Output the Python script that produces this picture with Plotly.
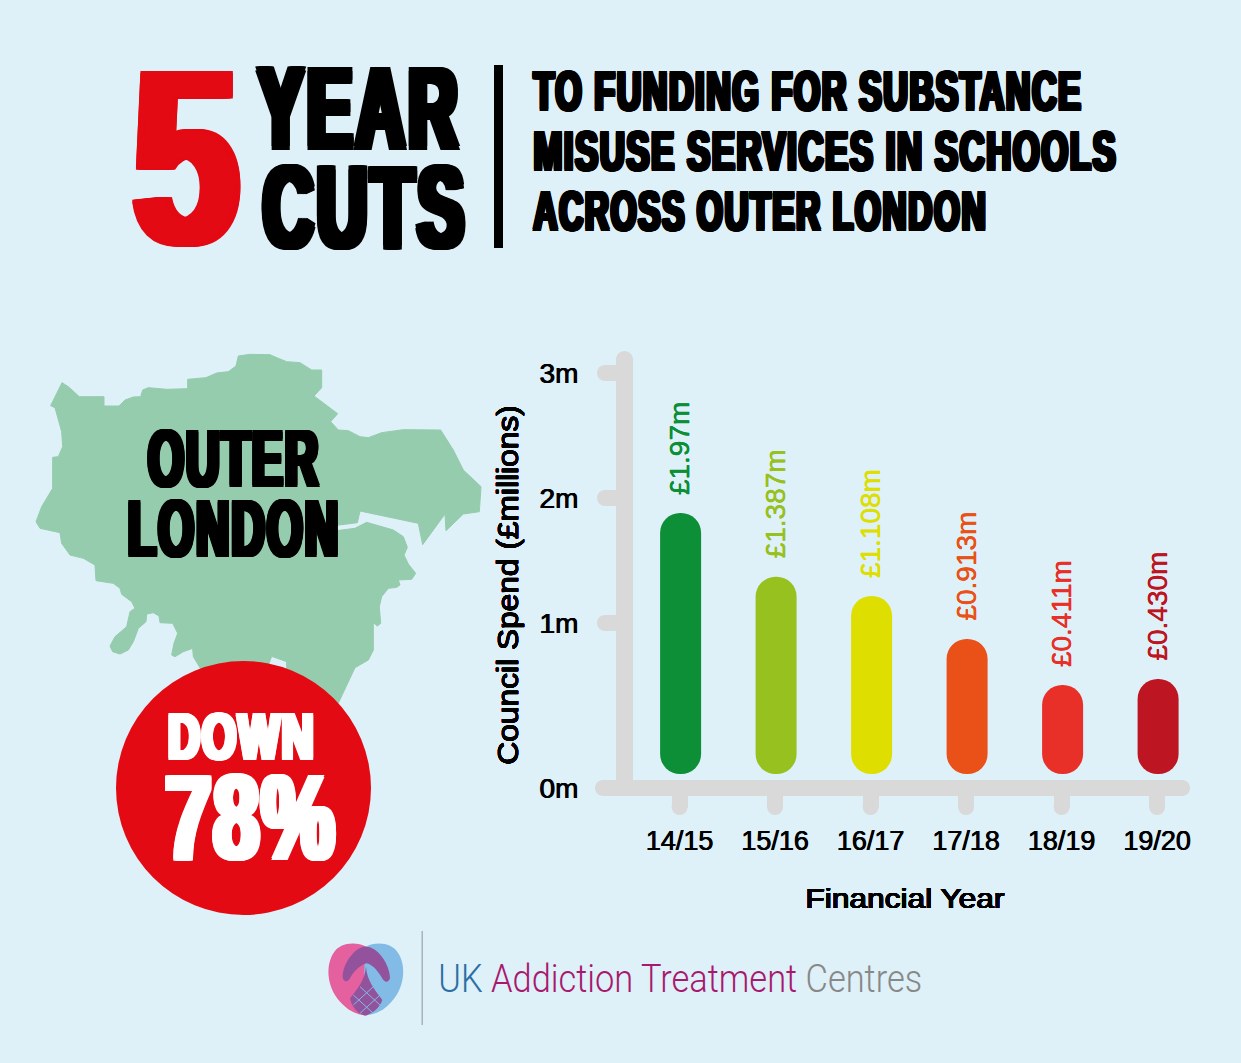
import json
import plotly.graph_objects as go

# financial years and what the picture shows
years = ['14/15', '15/16', '16/17', '17/18', '18/19', '19/20']
bar_tops = [1.88, 1.37, 1.216, 0.872, 0.504, 0.552]  # bars are not to scale in the original
bar_base = -0.208
value_labels = ['£1.97m', '£1.387m', '£1.108m', '£0.913m', '£0.411m', '£0.430m']
bar_colors = ['#0C8F37', '#97C11F', '#DEDE00', '#EA5119', '#E83029', '#BD1622']
y_ticks = [-0.32, 1, 2, 3]
y_ticklabels = ['0m', '1m', '2m', '3m']

BG = '#DEF0F8'
RED = '#E30A14'
GREY = '#D9D9D9'
MAP = '#95CCAD'
BODY_FONT = 'Liberation Sans'
W, H = 1241, 1063


# canvas pixels -> axis units, the one axes covers the whole canvas
def px(p):
    return (p - 679.6) / 95.5


def py(p):
    return 1 + (623 - p) / 125


# London outline, measured on a crop at 3x with origin (20,340)
map_pts = [(92, 197), (126, 128), (145, 140), (178, 170), (252, 170), (252, 198), (297, 198), (315, 180), (340, 171),
           (362, 170), (368, 150), (385, 143), (440, 148), (503, 146), (503, 118), (558, 113), (590, 99), (625, 95),
           (648, 78), (655, 48), (690, 43), (750, 44), (775, 55), (800, 65), (840, 68), (875, 90), (905, 90),
           (905, 143), (882, 168), (953, 221), (932, 245), (955, 270), (985, 272), (1020, 290), (1045, 293),
           (1085, 278), (1150, 269), (1262, 270), (1300, 330), (1330, 390), (1383, 440), (1378, 515), (1330, 522),
           (1278, 572), (1275, 522), (1208, 614), (1195, 550), (1020, 513), (1012, 548), (950, 556), (950, 572),
           (1005, 565), (1040, 547), (1120, 570), (1150, 590), (1162, 622), (1152, 645), (1165, 672), (1187, 700),
           (1175, 718), (1135, 720), (1140, 735), (1130, 742), (1105, 745), (1085, 770), (1078, 800), (1082, 850),
           (1072, 858), (1060, 848), (1060, 930), (1045, 960), (1005, 983), (950, 1100), (800, 1050), (800, 965),
           (755, 949), (745, 975), (550, 1000), (520, 950), (518, 925), (490, 935), (465, 950), (455, 945), (462, 910),
           (473, 880), (458, 850), (420, 848), (417, 828), (400, 818), (380, 822), (378, 845), (355, 865), (340, 905),
           (325, 930), (300, 942), (278, 935), (270, 918), (285, 890), (320, 860), (330, 815), (345, 805), (335, 785),
           (305, 763), (300, 745), (280, 730), (228, 722), (225, 675), (190, 655), (150, 645), (125, 610), (120, 578),
           (60, 565), (48, 545), (65, 500), (98, 445), (98, 352), (115, 350), (128, 320), (125, 275), (110, 215),
           (105, 203), (92, 197)]
map_x = [px(20 + a / 3) for a, b in map_pts]
map_y = [py(340 + b / 3) for a, b in map_pts]

fig = go.Figure()
fig.add_trace(go.Scatter(x=map_x, y=map_y, mode='lines', fill='toself', fillcolor=MAP, line=dict(color=MAP, width=1),
                         hoverinfo='skip', showlegend=False))
fig.add_trace(go.Bar(x=list(range(len(years))), y=[t - bar_base for t in bar_tops], base=bar_base,
                     width=41 / 95.5, offset=-20.5 / 95.5 + 1 / 95.5, marker=dict(color=bar_colors, line=dict(width=0), cornerradius=20),
                     hoverinfo='skip', showlegend=False))


def pill(x0, y0, x1, y1, color):
    # rounded bar between two pixel corners
    r = min(x1 - x0, y1 - y0) / 2
    k = r * 0.45
    pts = [
        ('M', x0 + r, y0), ('L', x1 - r, y0), ('C', x1 - k, y0, x1, y0 + k, x1, y0 + r),
        ('L', x1, y1 - r), ('C', x1, y1 - k, x1 - k, y1, x1 - r, y1), ('L', x0 + r, y1),
        ('C', x0 + k, y1, x0, y1 - k, x0, y1 - r), ('L', x0, y0 + r), ('C', x0, y0 + k, x0 + k, y0, x0 + r, y0),
    ]
    s = ''
    for p in pts:
        nums = p[1:]
        s += p[0] + ' '.join(f'{px(nums[i]):.5f},{py(nums[i + 1]):.5f}' for i in range(0, len(nums), 2)) + ' '
    return dict(type='path', path=s + 'Z', fillcolor=color, line=dict(width=0), layer='below')


def crop_path(cmds, color, opacity=1.0):
    # logo pieces, crop at 3x with origin (320,930)
    s = ''
    for c in cmds:
        nums = c[1:]
        s += c[0] + ' '.join(f'{px(320 + nums[i] / 3):.5f},{py(930 + nums[i + 1] / 3):.5f}' for i in range(0, len(nums), 2)) + ' '
    return dict(type='path', path=s + 'Z', fillcolor=color, opacity=opacity, line=dict(width=0), layer='above')


def box(x0, y0, x1, y1, color, kind='rect', layer='above'):
    return dict(type=kind, x0=px(x0), x1=px(x1), y0=py(y0), y1=py(y1), fillcolor=color, line=dict(width=0), layer=layer)


shapes = [
    pill(616, 351, 633, 796, GREY),
    pill(595, 780, 1190, 796, GREY),
    box(494, 65, 503, 248, '#000000'),
    box(116, 661, 371, 915, RED, 'circle'),
    box(421.5, 931, 423, 1025, '#A9B3B8'),
]
# round the ends of the tick stubs
for v in y_ticks[1:]:
    shapes.append(dict(type='circle', x0=px(597), x1=px(613), y0=v + 8 / 125, y1=v - 8 / 125, fillcolor=GREY,
                       line=dict(width=0), layer='below'))
for i in range(len(years)):
    shapes.append(dict(type='circle', x0=i - 8 / 95.5, x1=i + 8 / 95.5, y0=py(799), y1=py(815), fillcolor=GREY,
                       line=dict(width=0), layer='below'))

# logo
shapes += [
    crop_path([('M', 138, 50), ('C', 110, 35, 60, 35, 40, 70), ('C', 15, 110, 20, 180, 70, 225),
               ('C', 90, 245, 115, 255, 135, 255), ('C', 140, 200, 140, 120, 138, 50)], '#E4609F'),
    crop_path([('M', 138, 50), ('C', 165, 35, 215, 35, 235, 70), ('C', 260, 110, 255, 180, 205, 225),
               ('C', 185, 245, 160, 255, 135, 255), ('C', 130, 200, 130, 120, 138, 50)], '#82BBE5'),
    crop_path([('M', 68, 140), ('C', 70, 90, 115, 45, 140, 50), ('C', 170, 50, 210, 100, 210, 145),
               ('C', 205, 160, 195, 155, 190, 150), ('C', 175, 125, 160, 105, 140, 100), ('C', 120, 105, 100, 125, 88, 148),
               ('C', 80, 158, 70, 155, 68, 140)], '#92529C'),
    crop_path([('M', 138, 110), ('C', 140, 150, 165, 180, 187, 210), ('C', 180, 235, 150, 255, 135, 257),
               ('C', 120, 255, 95, 235, 90, 205), ('C', 110, 180, 135, 150, 138, 110)], '#92529C'),
]
for (a, b, c, d) in [(100, 195, 160, 250), (120, 170, 180, 225), (180, 195, 120, 250), (160, 170, 100, 225)]:
    shapes.append(dict(type='line', x0=px(320 + a / 3), y0=py(930 + b / 3), x1=px(320 + c / 3), y1=py(930 + d / 3),
                       line=dict(color='#82BBE5', width=1), layer='above'))

annotations = []
fit = {}


# text squeezed to a measured width in the page, no Impact style face is installed
def label(text, cx, cy, size, width, color='#000000', family=BODY_FONT, hx=0.0, hy=0.0, ls=0.0, bold=True, angle=0, weight=None):
    shadow = 'none'
    if hx or hy:
        parts = []
        for sx in (-1, -0.75, -0.5, -0.25, 0, 0.25, 0.5, 0.75, 1):
            for sy in (-1, 1):
                parts.append(f'{sx * hx}px {sy * hy}px 0 {color}')
        shadow = ', '.join(parts)
    fit[str(len(annotations))] = dict(w=width, h=hx, ls=ls)
    annotations.append(dict(text=text, x=px(cx), y=py(cy), xref='x', yref='y', showarrow=False, xanchor='center',
                            yanchor='middle', textangle=angle,
                            font=dict(family=family, size=size, color=color, shadow=shadow,
                                      weight=weight or ('bold' if bold else 'normal'))))


label('5', 186, 158, 248, 118, RED, hx=8, hy=1)
label('YEAR', 360, 108, 115, 210, hx=6, hy=1.5, ls=0.06)
label('CUTS', 365, 207, 115, 212, hx=6, hy=1.5, ls=0.06)
label('TO FUNDING FOR SUBSTANCE', 808, 91, 55, 552, hx=2.5, hy=0.5, ls=0.05)
label('MISUSE SERVICES IN SCHOOLS', 825, 151, 55, 587, hx=2.5, hy=0.5, ls=0.05)
label('ACROSS OUTER LONDON', 760, 211, 55, 457, hx=2.5, hy=0.5, ls=0.05)
label('OUTER', 234, 458, 79, 177, hx=4, hy=1, ls=0.05)
label('LONDON', 234, 528, 79, 217, hx=4, hy=1, ls=0.05)
label('DOWN', 242, 736, 65, 152, '#FFFFFF', hx=3.5, hy=0.5, ls=0.05)
label('78%', 251, 817, 120, 178, '#FFFFFF', hx=5, hy=1, ls=0.03)
label('Council Spend (£millions)', 507, 585, 30, 360, hx=0.4, hy=0.2, bold=False, angle=-90)
label('Financial Year', 905, 898, 28, 200, hx=0.4, hy=0.2, bold=False)
label('<span style="color:#2A6EA5">UK</span> <span style="color:#A8186F">Addiction Treatment</span> '
      '<span style="color:#888888">Centres</span>', 680, 979, 39, 484, '#888888', 'Roboto', weight=300)

for i, t in enumerate(value_labels):
    annotations.append(dict(text=t, x=i, y=bar_tops[i], xref='x', yref='y', yshift=16, showarrow=False, xanchor='center',
                            yanchor='bottom', textangle=-90,
                            font=dict(family=BODY_FONT, size=28, color=bar_colors[i],
                                      shadow=f'0.25px 0 0 {bar_colors[i]}, -0.25px 0 0 {bar_colors[i]}')))

fig.update_layout(
    width=W, height=H, margin=dict(l=0, r=0, t=0, b=0), paper_bgcolor=BG, plot_bgcolor=BG, showlegend=False,
    shapes=shapes, annotations=annotations, autosize=False,
    xaxis=dict(range=[px(0), px(W)], domain=[0, 1], anchor='free', position=1 - 788 / H, side='bottom',
               tickmode='array', tickvals=list(range(len(years))), ticktext=years, ticks='outside', ticklen=19,
               tickwidth=16, tickcolor=GREY, ticklabelstandoff=10, showgrid=False, zeroline=False, showline=False,
               tickfont=dict(family=BODY_FONT, size=27, color='#000000', shadow='0.4px 0 0 #000, -0.4px 0 0 #000')),
    yaxis=dict(range=[py(H), py(0)], domain=[0, 1], anchor='free', position=625 / W, side='left',
               tickmode='array', tickvals=y_ticks, ticktext=y_ticklabels, ticks='outside', ticklen=20,
               tickwidth=16, tickcolor=GREY, ticklabelstandoff=21, showgrid=False, zeroline=False, showline=False,
               tickfont=dict(family=BODY_FONT, size=28, color='#000000', shadow='0.4px 0 0 #000, -0.4px 0 0 #000')),
)

post = """
document.body.style.margin = '0';
document.body.style.overflow = 'hidden';
document.body.style.background = '%s';
var gd = document.getElementById('{plot_id}');
var FIT = %s;
function squeeze() {
  gd.querySelectorAll('.annotation').forEach(function (g) {
    var f = FIT[g.getAttribute('data-index')];
    if (!f) return;
    var t = g.querySelector('text');
    if (f.ls) t.style.letterSpacing = f.ls + 'em';
    var b = t.getBBox();
    var k = f.w / (b.width + 2 * f.h);
    var c = b.x + b.width / 2;
    t.setAttribute('transform', 'translate(' + c + ' 0) scale(' + k + ' 1) translate(' + (-c) + ' 0)');
  });
}
squeeze();
gd.on('plotly_afterplot', squeeze);
setTimeout(squeeze, 50);
""" % (BG, json.dumps(fit))

fig.write_html("out.html", post_script=post, config=dict(displayModeBar=False))
